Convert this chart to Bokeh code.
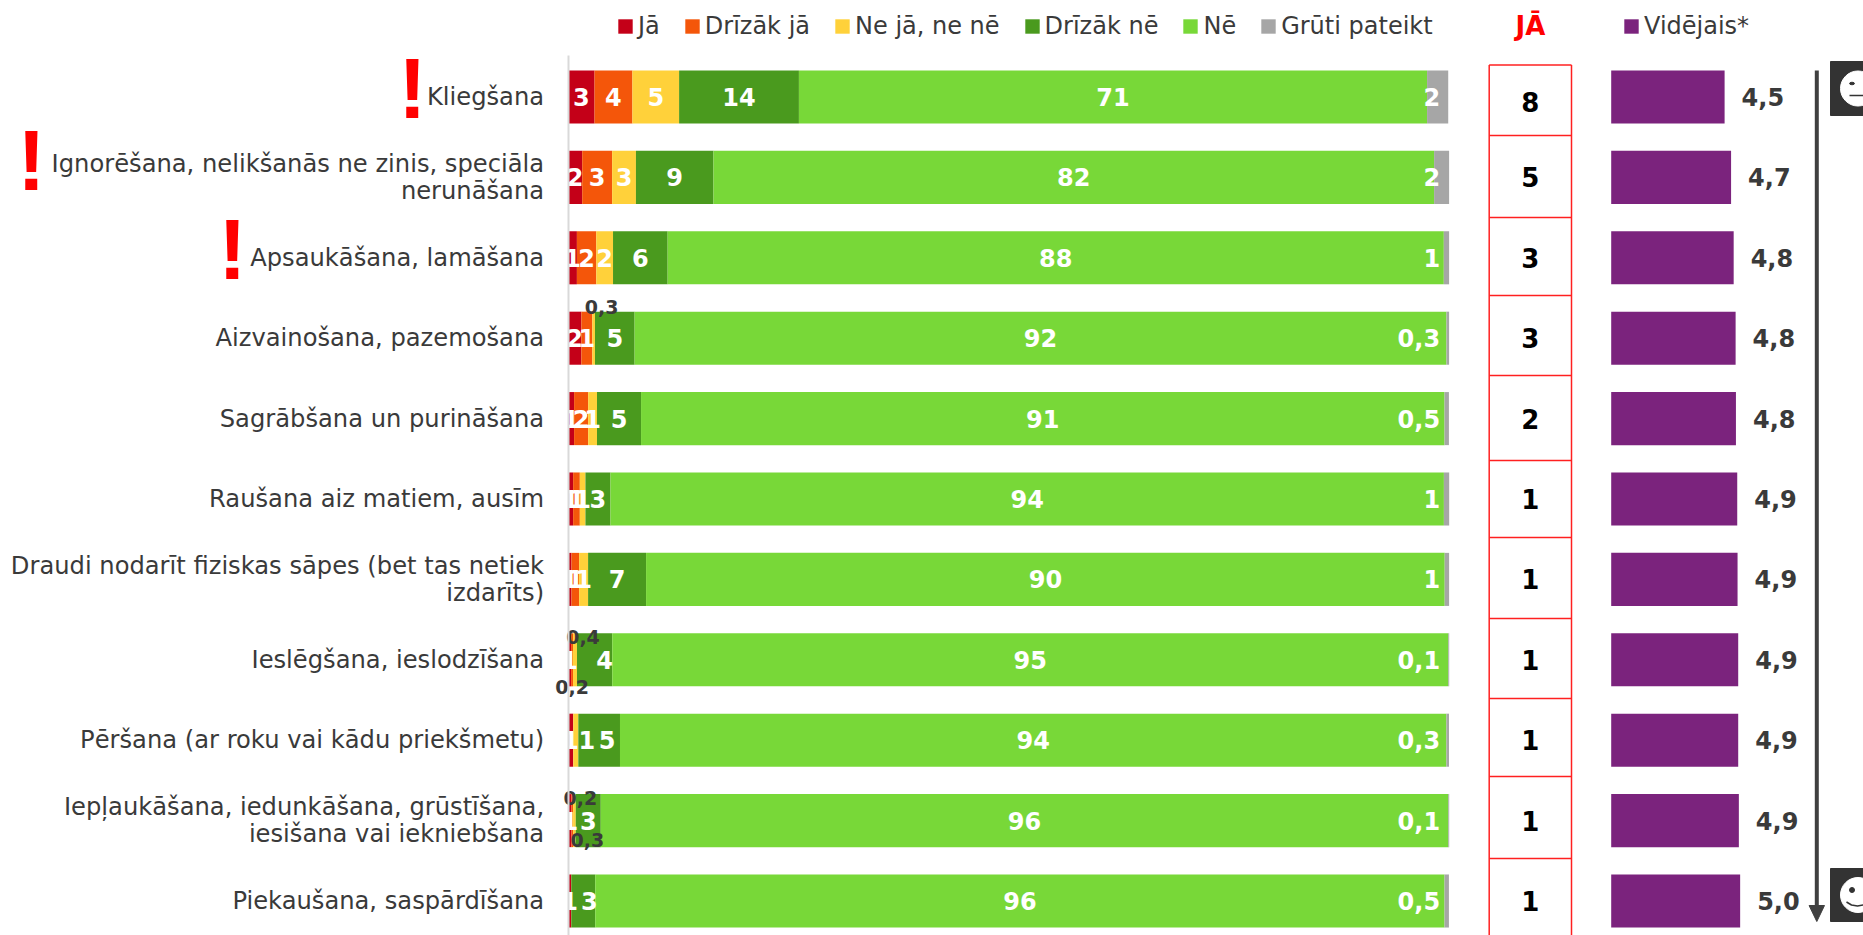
from bokeh.plotting import figure
from bokeh.embed import file_html
from bokeh.resources import INLINE
from bokeh.core.properties import value
from bokeh.models import Range1d, FixedTicker, Legend, LegendItem, Label, ColumnDataSource

categories = ["Kliegšana", "Ignorēšana, nelikšanās ne zinis, speciāla\nnerunāšana", "Apsaukāšana, lamāšana",
              "Aizvainošana, pazemošana", "Sagrābšana un purināšana", "Raušana aiz matiem, ausīm",
              "Draudi nodarīt fiziskas sāpes (bet tas netiek\nizdarīts)", "Ieslēgšana, ieslodzīšana",
              "Pēršana (ar roku vai kādu priekšmetu)", "Iepļaukāšana, iedunkāšana, grūstīšana,\niesišana vai iekniebšana",
              "Piekaušana, saspārdīšana"]
series_names = ["Jā", "Drīzāk jā", "Ne jā, ne nē", "Drīzāk nē", "Nē", "Grūti pateikt"]
ja = [3.0, 1.6, 1.0, 1.5, 0.68, 0.57, 0.38, 0.34, 0.57, 0.38, 0.34]
drizak_ja = [4.3, 3.4, 2.2, 1.25, 1.6, 0.76, 0.87, 0.22, 0.02, 0.19, 0.02]
ne_ja_ne_ne = [5.3, 2.7, 1.9, 0.3, 1.0, 0.64, 1.02, 0.45, 0.57, 0.3, 0.0]
drizak_ne = [13.6, 8.8, 6.2, 4.5, 5.0, 2.84, 6.58, 4.0, 4.73, 2.84, 2.72]
ne = [71.3, 81.8, 88.1, 92.15, 91.2, 94.6, 90.65, 94.9, 93.8, 96.2, 96.4]
gruti = [2.4, 1.7, 0.6, 0.3, 0.5, 0.6, 0.5, 0.1, 0.3, 0.1, 0.5]
all_series = [ja, drizak_ja, ne_ja_ne_ne, drizak_ne, ne, gruti]
labels_ja = ["3", "2", "1", "2", "1", "1", "1", "1", "1", "1", "1"]
labels_drizak_ja = ["4", "3", "2", "1", "2", "1", "1", "", "", "", ""]
labels_neitral = ["5", "3", "2", "", "1", "1", "1", "", "1", "", ""]
labels_drizak_ne = ["14", "9", "6", "5", "5", "3", "7", "4", "5", "3", "3"]
labels_ne = ["71", "82", "88", "92", "91", "94", "90", "95", "94", "96", "96"]
labels_gruti = ["2", "2", "1", "0,3", "0,5", "1", "1", "0,1", "0,3", "0,1", "0,5"]
all_labels = [labels_ja, labels_drizak_ja, labels_neitral, labels_drizak_ne, labels_ne]
ja_total = ["8", "5", "3", "3", "2", "1", "1", "1", "1", "1", "1"]
mean_values = [4.5, 4.7, 4.78, 4.84, 4.85, 4.89, 4.9, 4.92, 4.92, 4.94, 4.98]
mean_labels = ["4,5", "4,7", "4,8", "4,8", "4,8", "4,9", "4,9", "4,9", "4,9", "4,9", "5,0"]
# thin values printed dark next to the bar: row, series, label
small_labels = [(3, 2, "0,3"), (7, 2, "0,4"), (7, 1, "0,2"), (9, 1, "0,2"), (9, 2, "0,3")]

# ---- styles and layout ----
colors = ["#C40018", "#F4560A", "#FFD13A", "#4A9A1E", "#78D838", "#A6A6A6"]
purple = "#7B237D"
dark = "#3A3A3A"
FONT = "DejaVu Sans"
BIG = "24px"
X0, X1, Y0, Y1 = 0, 1863, 0, 935
PX_PCT = 8.81
BAR0 = 567.6
ROW0, ROW_STEP = 96.5, 80.4
MEAN0, MEAN_U = 1610.7, 32.4
small_off = {(3, 2): (8, -31), (7, 2): (8, -23), (7, 1): (0, 27), (9, 1): (8, -23), (9, 2): (13, 19)}
label_off = {(7, 3): 10, (8, 2): 11, (8, 3): 8, (10, 3): 6}
table_x = (1488.7, 1571)
table_edges = [64.5, 135, 217, 295, 375, 460, 537, 618, 698, 776, 858]
n = len(categories)
rows = list(range(n))

p = figure(width=X1 - X0, height=Y1 - Y0, output_backend="svg", toolbar_location=None,
           x_range=Range1d((X0 - BAR0) / PX_PCT, (X1 - BAR0) / PX_PCT),
           y_range=Range1d((Y1 - ROW0) / ROW_STEP, (Y0 - ROW0) / ROW_STEP),
           x_axis_location=None, min_border=0, outline_line_color=None, background_fill_color="white")
p.grid.visible = False
p.extra_x_ranges["mean"] = Range1d(1 + (X0 - MEAN0) / MEAN_U, 1 + (X1 - MEAN0) / MEAN_U)
p.extra_x_ranges["px"] = Range1d(X0, X1)
p.extra_y_ranges["px"] = Range1d(Y1, Y0)

ax = p.yaxis[0]
ax.fixed_location = 0
ax.ticker = FixedTicker(ticks=rows)
ax.major_label_overrides = {i: c for i, c in enumerate(categories)}
ax.major_tick_line_color = None
ax.minor_tick_line_color = None
ax.axis_line_color = "#D9D9D9"
ax.axis_line_width = 2
ax.bounds = ((55 - ROW0) / ROW_STEP, (Y1 - ROW0) / ROW_STEP)
ax.major_label_standoff = 18
ax.major_label_text_font = FONT
ax.major_label_text_font_size = "24.2px"
ax.major_label_text_color = dark
ax.major_label_text_line_height = 0.97

left = [0.0] * n
renderers = []
seg_center = []
for s, vals in zip(colors, all_series):
    right = [a + b for a, b in zip(left, vals)]
    r = p.hbar(y=rows, left=left, right=right, height=0.66, color=s, line_color=None)
    renderers.append(r)
    seg_center.append([(a + b) / 2 for a, b in zip(left, right)])
    left = right

for si, lab in enumerate(all_labels):
    for i in rows:
        if lab[i]:
            p.text(x=[seg_center[si][i]], y=[i], text=[lab[i]], text_align="center", text_baseline="middle",
                   x_offset=label_off.get((i, si), 0), y_offset=0, text_color="white",
                   text_font=value(FONT), text_font_style="bold", text_font_size=BIG)
p.text(x=[100] * n, y=rows, text=labels_gruti, text_align="right", text_baseline="middle", x_offset=-9, y_offset=0,
       text_color="white", text_font=value(FONT), text_font_style="bold", text_font_size=BIG)
for i, si, t in small_labels:
    dx, dy = small_off[(i, si)]
    p.text(x=[seg_center[si][i]], y=[i], text=[t], text_align="center", text_baseline="middle",
           x_offset=dx, y_offset=dy, text_color=dark, text_font=value(FONT), text_font_style="bold",
           text_font_size="19px")

# table of "JĀ"
p.segment(x0=[table_x[0]] * len(table_edges), x1=[table_x[1]] * len(table_edges), y0=table_edges, y1=table_edges,
          x_range_name="px", y_range_name="px", line_color="#FF2020", line_width=1.5)
p.segment(x0=list(table_x), x1=list(table_x), y0=[table_edges[0]] * 2, y1=[Y1] * 2,
          x_range_name="px", y_range_name="px", line_color="#FF2020", line_width=1.5)
tc = sum(table_x) / 2
p.text(x=[tc] * n, y=[ROW0 + ROW_STEP * i + (5 if i == 0 else 0) for i in rows], text=ja_total, x_range_name="px", y_range_name="px",
       text_align="center", text_baseline="middle", text_color="black", text_font=value(FONT), text_font_style="bold",
       text_font_size="26px")
p.text(x=[tc], y=[25], text=["JĀ"], x_range_name="px", y_range_name="px", text_align="center", text_baseline="middle",
       text_color="#FF0000", text_font=value(FONT), text_font_style="bold", text_font_size="26px")

# means
mean_r = p.hbar(y=rows, left=[1] * n, right=mean_values, height=0.66, color=purple, line_color=None, x_range_name="mean")
p.text(x=mean_values, y=rows, text=mean_labels, x_range_name="mean", text_align="left", text_baseline="middle",
       x_offset=17, y_offset=0, text_color=dark, text_font=value(FONT), text_font_style="bold", text_font_size=BIG)

# legends
def make_legend(items, x):
    lg = Legend(items=items, orientation="horizontal", location=(x, Y1 - Y0 - 40), spacing=23, margin=0, padding=0,
                border_line_color=None, background_fill_alpha=0, glyph_width=18, glyph_height=18, label_standoff=4,
                label_text_font=FONT, label_text_font_size="24px", label_text_color=dark)
    p.add_layout(lg)
make_legend([LegendItem(label=value(nm), renderers=[r]) for nm, r in zip(series_names, renderers)], 616 - X0)
make_legend([LegendItem(label=value("Vidējais*"), renderers=[mean_r])], 1622 - X0)

# exclamation marks
for x, y in [(412, 88), (31, 160), (232, 249)]:
    p.add_layout(Label(x=x - X0, y=Y1 - y, x_units="screen", y_units="screen", text="!", text_align="center",
                       text_baseline="middle", text_color="#FF0000", text_font="Liberation Sans",
                       text_font_style="bold", text_font_size="85px"))

# trend arrow
AX = 1816.3
p.segment(x0=[AX], x1=[AX], y0=[70], y1=[907], x_range_name="px", y_range_name="px", line_color="#404040", line_width=4)
p.patch(x=[AX - 7.7, AX + 7.7, AX], y=[905, 905, 921], x_range_name="px", y_range_name="px", color="#404040")

# face icons
for top, bottom, happy in [(61, 115, False), (868, 921, True)]:
    p.quad(left=[1830], right=[1863], top=[top], bottom=[bottom], x_range_name="px", y_range_name="px", color="#333333")
    cy = (top + bottom) / 2
    p.ellipse(x=[1857.5], y=[cy], width=35, height=35, x_range_name="px", y_range_name="px", color="white",
              width_units="screen", height_units="screen")
    p.ellipse(x=[1851.5], y=[cy - 5], width=5, height=5 if happy else 2.5, width_units="screen", height_units="screen",
              x_range_name="px", y_range_name="px", color="#333333")
    if happy:
        p.line(x=[1846, 1851, 1857, 1863], y=[cy + 7, cy + 10, cy + 11, cy + 10], x_range_name="px", y_range_name="px",
               line_color="#333333", line_width=1.5)
    else:
        p.segment(x0=[1849], x1=[1863], y0=[cy + 7], y1=[cy + 7], x_range_name="px", y_range_name="px",
                  line_color="#333333", line_width=1.5)

open("out.html", "w").write(file_html(p, INLINE))
